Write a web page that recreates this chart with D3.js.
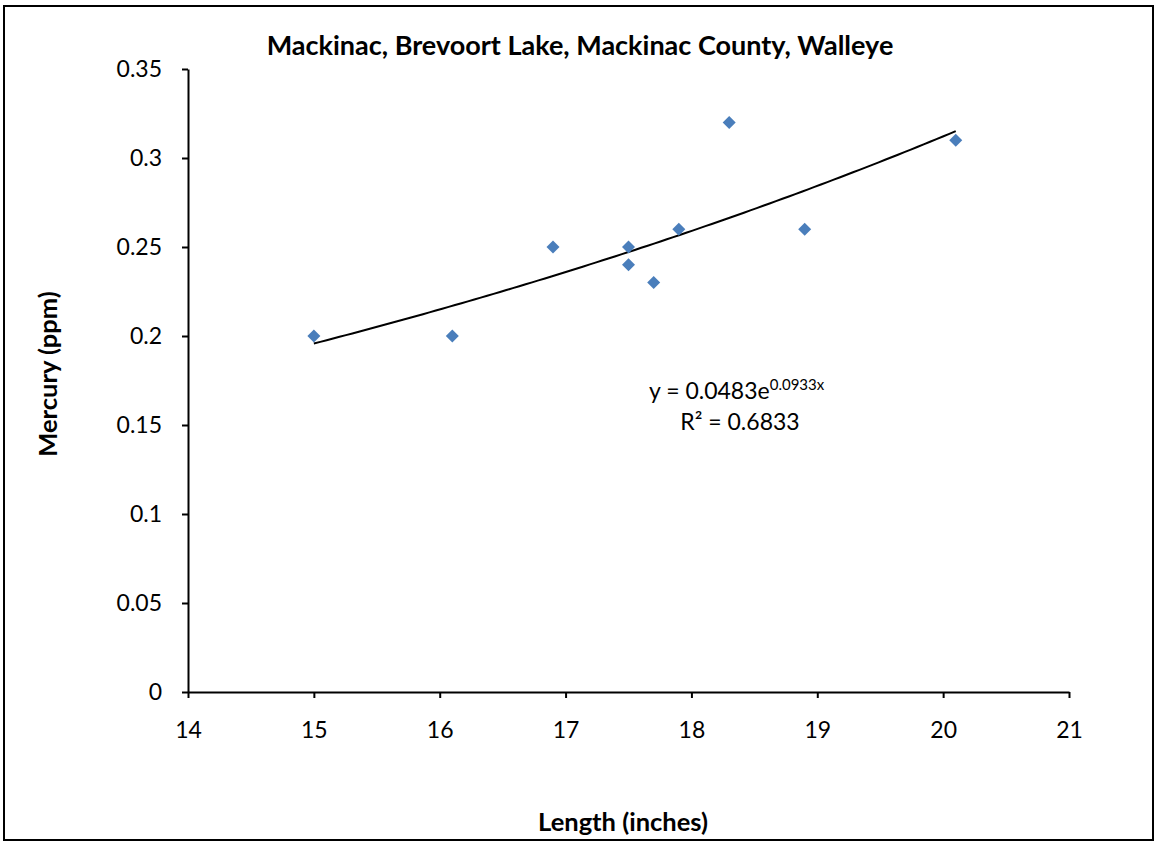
<!DOCTYPE html>
<html>
<head>
<meta charset="utf-8">
<script src="https://cdn.jsdelivr.net/npm/d3@7"></script>
<style>
  body { margin: 0; background: #fff; }
  text { font-family: Lato, "Open Sans", sans-serif; fill: #000; }
</style>
</head>
<body>
<div id="chart"></div>
<script>
// fish length (inches) and mercury (ppm)
const lengths = [15, 16.1, 16.9, 17.5, 17.5, 17.7, 17.9, 18.3, 18.9, 20.1];
const mercury = [0.2, 0.2, 0.25, 0.25, 0.24, 0.23, 0.26, 0.32, 0.26, 0.31];
const xTicks = [14, 15, 16, 17, 18, 19, 20, 21];
const yTicks = [0, 0.05, 0.1, 0.15, 0.2, 0.25, 0.3, 0.35];
// exponential trendline y = a * e^(b x)
const trendA = 0.0483;
const trendB = 0.0933;
const trendR2 = 0.6833;

const width = 1156, height = 842;
const svg = d3.select("#chart").append("svg")
    .attr("width", width)
    .attr("height", height);

// chart frame
svg.append("rect")
    .attr("x", 4).attr("y", 6)
    .attr("width", 1149).attr("height", 834)
    .attr("fill", "#fff")
    .attr("stroke", "#000")
    .attr("stroke-width", 2);

const x = d3.scaleLinear().domain([14, 21]).range([188, 1069]);
const y = d3.scaleLinear().domain([0, 0.35]).range([692, 69]);

/********** axes **********/
const xAxis = svg.append("g")
    .attr("transform", `translate(0,${y(0)})`)
    .call(d3.axisBottom(x).tickValues(xTicks).tickSize(6).tickSizeOuter(0).tickFormat(d3.format("d")));
const yAxis = svg.append("g")
    .attr("transform", `translate(${x(14)},0)`)
    .call(d3.axisLeft(y).tickValues(yTicks).tickSize(6).tickSizeOuter(0).tickFormat(d => d === 0 ? "0" : String(+d.toFixed(2))));

[xAxis, yAxis].forEach(g => {
    g.select(".domain").attr("stroke", "#000").attr("stroke-width", 2);
    g.selectAll(".tick line").attr("stroke", "#000").attr("stroke-width", 2);
    g.selectAll(".tick text")
        .attr("font-size", 23)
        .attr("font-family", "Lato, 'Open Sans', sans-serif")
        .attr("fill", "#000");
});
xAxis.selectAll(".tick text").attr("dy", 0).attr("y", 46);
yAxis.selectAll(".tick text").attr("x", -26);

/********** trendline **********/
const trendData = d3.range(0, 101).map(i => {
    const xv = d3.min(lengths) + (d3.max(lengths) - d3.min(lengths)) * i / 100;
    return { x: xv, y: trendA * Math.exp(trendB * xv) };
});
svg.append("path")
    .datum(trendData)
    .attr("fill", "none")
    .attr("stroke", "#000")
    .attr("stroke-width", 2)
    .attr("d", d3.line().x(d => x(d.x)).y(d => y(d.y)));

/********** points **********/
const points = lengths.map((l, i) => ({ x: l, y: mercury[i] }));
svg.selectAll(".point")
    .data(points)
    .join("path")
    .attr("class", "point")
    .attr("transform", d => `translate(${x(d.x)},${y(d.y)})`)
    .attr("d", "M0,-6.5L6.5,0L0,6.5L-6.5,0Z")
    .attr("fill", "#4a7ebb");

/********** text **********/
svg.append("text")
    .attr("x", 580).attr("y", 55)
    .attr("text-anchor", "middle")
    .attr("font-size", 27)
    .attr("font-weight", "bold")
    .text("Mackinac, Brevoort Lake, Mackinac County, Walleye");

svg.append("text")
    .attr("transform", "translate(57,374) rotate(-90)")
    .attr("text-anchor", "middle")
    .attr("font-size", 25.5)
    .attr("font-weight", "bold")
    .text("Mercury (ppm)");

svg.append("text")
    .attr("x", 623).attr("y", 831)
    .attr("text-anchor", "middle")
    .attr("font-size", 25.5)
    .attr("font-weight", "bold")
    .text("Length (inches)");

const eq = svg.append("text")
    .attr("x", 649).attr("y", 399)
    .attr("font-size", 23);
eq.append("tspan").text(`y = ${trendA}e`);
eq.append("tspan").attr("dy", -9).attr("font-size", 15).text(`${trendB}x`);

svg.append("text")
    .attr("x", 740).attr("y", 430)
    .attr("text-anchor", "middle")
    .attr("font-size", 23)
    .text(`R² = ${trendR2}`);
</script>
</body>
</html>
